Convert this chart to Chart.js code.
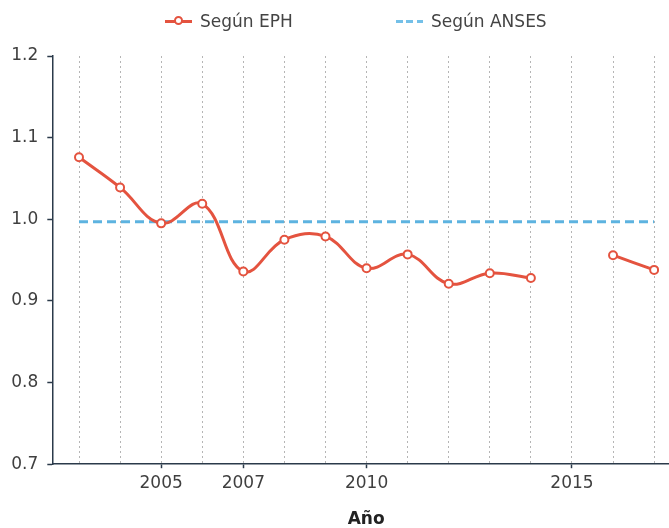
<!DOCTYPE html>
<html>
<head>
<meta charset="utf-8">
<script src="https://cdn.jsdelivr.net/npm/chart.js@4"></script>
<style>
  body { margin: 0; background: #fff; overflow: hidden; }
  #wrap { position: relative; width: 669px; height: 528px; overflow: hidden; }
  .leg { position: absolute; top: 11px; height: 20px; display: flex; align-items: center;
         font-family: "DejaVu Sans", sans-serif; font-size: 17px; color: #444; white-space: nowrap; }
  .ico { display: inline-block; width: 27px; height: 3px; margin-right: 8px; position: relative; }
  .ico.eph { background: #e4533f; }
  .ico.eph::after { content: ""; position: absolute; left: 9px; top: -4px; width: 5px; height: 5px;
                    border: 2px solid #e4533f; border-radius: 50%; background: #fff; }
  .ico.anses { background: repeating-linear-gradient(90deg, #74c0e8 0 7px, transparent 7px 10.5px); }
</style>
</head>
<body>
<div id="wrap">
  <canvas id="chart" width="686" height="530"></canvas>
  <div class="leg" style="left:165px"><span class="ico eph"></span>Según EPH</div>
  <div class="leg" style="left:396px"><span class="ico anses"></span>Según ANSES</div>
</div>
<script>
var years = [2003, 2004, 2005, 2006, 2007, 2008, 2009, 2010, 2011, 2012, 2013, 2014, 2015, 2016, 2017];
var eph = [1.076, 1.039, 0.995, 1.019, 0.936, 0.975, 0.979, 0.940, 0.957, 0.921, 0.934, 0.928, null, 0.956, 0.938];
var ansesYears = [2003, 2017];
var anses = [0.997, 0.997];
var labeledYears = [2005, 2007, 2010, 2015];
var yTicks = [0.7, 0.8, 0.9, 1.0, 1.1, 1.2];

var red = '#e4533f';
var blue = '#5db3e0';
var axisColor = '#2b3a4a';
var textColor = '#3f3f3f';
var font = { family: 'DejaVu Sans', size: 17 };

var ctx = document.getElementById('chart').getContext('2d');
var chart = new Chart(ctx, {
    type: 'line',
    data: {
        datasets: [{
            label: 'Según EPH',
            data: years.map(function (y, i) { return { x: y, y: eph[i] }; }),
            borderColor: red,
            borderWidth: 3,
            tension: 0.4,
            pointRadius: 4,
            pointBorderWidth: 2,
            pointBackgroundColor: '#fff',
            pointBorderColor: red,
            order: 0
        }, {
            label: 'Según ANSES',
            data: ansesYears.map(function (y, i) { return { x: y, y: anses[i] }; }),
            borderColor: blue,
            borderWidth: 3,
            borderDash: [9, 5],
            pointRadius: 0,
            order: 1
        }]
    },
    options: {
        responsive: false,
        animation: false,
        layout: {
            padding: { top: 56, right: 0, bottom: 0, left: 0 }
        },
        plugins: {
            legend: { display: false },
            tooltip: { enabled: false }
        },
        scales: {
            x: {
                type: 'linear',
                min: 2002.35,
                max: 2017.63,
                afterBuildTicks: function (scale) {
                    scale.ticks = years.map(function (v) { return { value: v }; });
                },
                ticks: {
                    autoSkip: false,
                    maxRotation: 0,
                    padding: 5,
                    color: textColor,
                    font: font,
                    callback: function (v) { return labeledYears.indexOf(v) >= 0 ? String(v) : ''; }
                },
                grid: {
                    color: '#b5b5b5',
                    lineWidth: 1,
                    tickLength: 4,
                    tickWidth: 1.5,
                    tickColor: function (c) {
                        return c.tick && labeledYears.indexOf(c.tick.value) >= 0 ? axisColor : 'rgba(0,0,0,0)';
                    }
                },
                border: { color: axisColor, width: 1.5, dash: [2, 3] },
                title: {
                    display: true,
                    text: 'Año',
                    color: '#222',
                    font: { family: 'DejaVu Sans', size: 17, weight: 'bold' },
                    padding: { top: 11, bottom: 0 }
                }
            },
            y: {
                min: 0.7,
                max: 1.2,
                afterBuildTicks: function (scale) {
                    scale.ticks = yTicks.map(function (v) { return { value: v }; });
                },
                afterFit: function (scale) { scale.width = 52.3; },
                ticks: {
                    padding: 9,
                    color: textColor,
                    font: font,
                    callback: function (v) { return v.toFixed(1); }
                },
                grid: {
                    drawOnChartArea: false,
                    tickLength: 5,
                    tickWidth: 1.5,
                    tickColor: axisColor
                },
                border: { color: axisColor, width: 1.5 }
            }
        }
    }
});
</script>
</body>
</html>
